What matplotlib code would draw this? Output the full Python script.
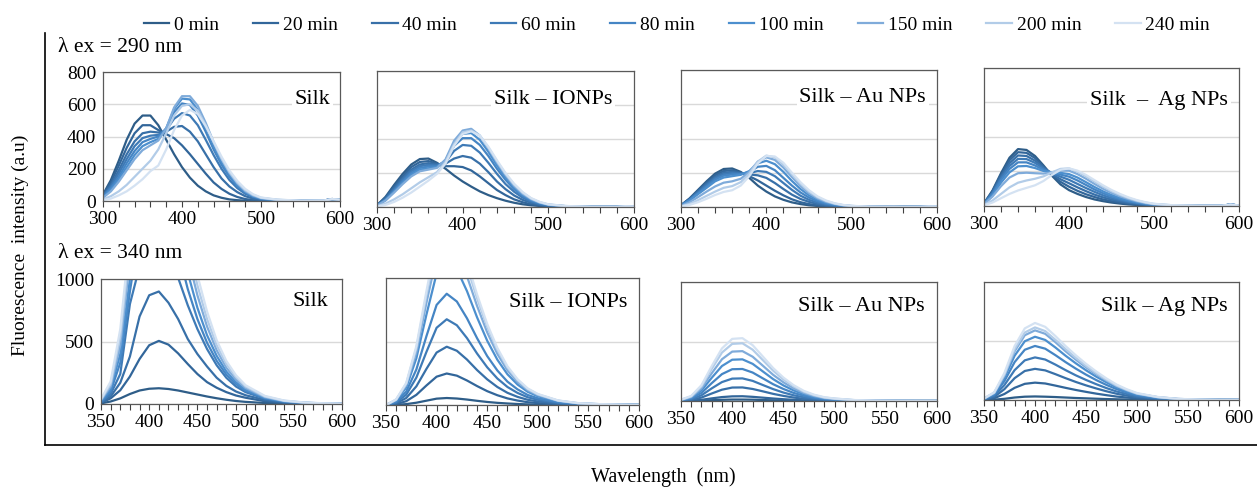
import matplotlib
matplotlib.use('Agg')
import matplotlib.pyplot as plt
from matplotlib.lines import Line2D
from matplotlib.ticker import MultipleLocator

plt.rcParams['font.family'] = ['Liberation Serif', 'DejaVu Serif']

times = ['0 min', '20 min', '40 min', '60 min', '80 min', '100 min', '150 min', '200 min', '240 min']
colors = ['#2E5D88', '#32669A', '#3870A8', '#3E7AB6', '#4585C4', '#4C8FCE', '#7FABDA', '#B2CCE8', '#D4E2F2']

# wavelength grids (nm)
wl_290 = [300, 310, 320, 330, 340, 350, 360, 370, 380, 390, 400, 410, 420, 430, 440,
          450, 460, 470, 480, 490, 500, 520, 550, 580, 590, 600]
wl_340 = [350, 360, 370, 380, 390, 400, 410, 420, 430, 440, 450, 460, 470, 480, 490,
          500, 520, 540, 560, 580, 600]

# excitation 290 nm
silk_290 = [
    [40, 130, 250, 380, 480, 530, 530, 470, 380, 290, 210, 145, 95, 60, 35, 20, 10, 5, 2, 0, 0, 0, 0, 3, 12, 8],
    [35, 115, 220, 330, 420, 470, 470, 440, 415, 390, 345, 290, 230, 170, 115, 75, 45, 25, 12, 6, 3, 1, 0, 3, 12, 8],
    [30, 100, 190, 290, 370, 420, 430, 425, 430, 460, 465, 430, 370, 290, 210, 140, 90, 55, 30, 15, 8, 3, 1, 3, 12, 8],
    [28, 90, 170, 260, 340, 390, 405, 410, 440, 510, 545, 530, 470, 380, 285, 200, 130, 80, 45, 25, 12, 4, 1, 3, 12, 8],
    [25, 80, 150, 235, 310, 365, 385, 400, 450, 550, 605, 595, 530, 430, 320, 225, 150, 92, 52, 28, 14, 5, 1, 3, 12, 8],
    [22, 70, 135, 210, 285, 340, 365, 385, 450, 570, 635, 630, 565, 460, 345, 245, 165, 100, 58, 30, 16, 6, 1, 3, 12, 8],
    [20, 60, 120, 190, 260, 315, 345, 375, 450, 580, 650, 650, 590, 485, 365, 260, 175, 110, 62, 34, 18, 7, 1, 3, 12, 8],
    [10, 30, 60, 100, 150, 200, 250, 320, 420, 530, 590, 600, 560, 470, 365, 265, 180, 115, 68, 38, 20, 8, 2, 3, 12, 8],
    [5, 15, 35, 60, 95, 135, 185, 220, 320, 440, 530, 565, 540, 465, 370, 275, 190, 125, 75, 42, 22, 9, 2, 3, 12, 8],
]
ionp_290 = [
    [10, 60, 130, 195, 250, 282, 285, 260, 225, 185, 150, 120, 92, 70, 52, 37, 25, 16, 10, 6, 3, 1, 0, 1, 4, 3],
    [10, 55, 120, 180, 235, 265, 270, 255, 240, 240, 235, 215, 180, 140, 100, 70, 45, 28, 16, 9, 5, 2, 0, 1, 4, 3],
    [10, 50, 110, 170, 220, 250, 258, 250, 255, 285, 300, 290, 255, 205, 150, 105, 68, 42, 25, 14, 8, 3, 1, 1, 4, 3],
    [9, 45, 100, 160, 210, 240, 248, 245, 265, 330, 365, 360, 320, 260, 195, 135, 90, 55, 32, 18, 10, 4, 1, 1, 4, 3],
    [9, 42, 95, 150, 200, 230, 238, 240, 270, 360, 405, 405, 365, 300, 225, 160, 105, 65, 38, 22, 12, 4, 1, 1, 4, 3],
    [8, 40, 90, 142, 190, 220, 228, 235, 275, 375, 430, 435, 395, 325, 245, 175, 115, 72, 42, 24, 13, 5, 1, 1, 4, 3],
    [8, 38, 85, 135, 180, 210, 220, 230, 280, 390, 450, 460, 420, 345, 262, 188, 125, 78, 46, 26, 14, 5, 1, 1, 4, 3],
    [5, 20, 45, 75, 110, 145, 175, 205, 265, 370, 440, 450, 420, 350, 270, 195, 132, 84, 50, 28, 15, 6, 1, 1, 4, 3],
    [3, 12, 30, 55, 85, 120, 155, 195, 255, 360, 430, 445, 420, 355, 275, 200, 137, 88, 52, 30, 16, 6, 1, 1, 4, 3],
]
au_290 = [
    [10, 50, 100, 150, 195, 222, 225, 205, 170, 125, 90, 62, 42, 27, 17, 10, 6, 3, 2, 1, 0, 0, 0, 1, 3, 3],
    [10, 48, 95, 142, 185, 210, 215, 200, 180, 155, 125, 95, 68, 45, 28, 17, 10, 6, 3, 2, 1, 0, 0, 1, 3, 3],
    [10, 45, 90, 135, 175, 200, 205, 198, 190, 185, 170, 140, 105, 72, 47, 30, 18, 10, 6, 3, 2, 1, 0, 1, 3, 3],
    [9, 42, 85, 128, 168, 192, 198, 195, 198, 210, 205, 180, 140, 100, 66, 42, 26, 15, 9, 5, 3, 1, 0, 1, 3, 3],
    [9, 40, 80, 120, 160, 183, 190, 192, 205, 235, 240, 215, 170, 125, 85, 55, 34, 20, 12, 7, 4, 1, 0, 1, 3, 3],
    [8, 38, 75, 112, 150, 172, 180, 188, 210, 255, 270, 250, 205, 152, 105, 68, 42, 25, 15, 8, 5, 2, 0, 1, 3, 3],
    [6, 28, 58, 90, 120, 142, 150, 165, 205, 265, 290, 275, 230, 175, 122, 80, 50, 30, 18, 10, 6, 2, 0, 1, 3, 3],
    [4, 18, 40, 65, 90, 112, 122, 145, 195, 265, 300, 290, 248, 190, 135, 90, 57, 35, 20, 11, 6, 2, 0, 1, 3, 3],
    [3, 12, 28, 48, 70, 88, 98, 125, 180, 255, 298, 295, 258, 200, 145, 98, 62, 38, 22, 12, 7, 2, 0, 1, 3, 3],
]
ag_290 = [
    [15, 90, 190, 280, 330, 325, 290, 235, 175, 125, 92, 70, 52, 38, 28, 20, 14, 9, 6, 4, 2, 1, 0, 2, 8, 3],
    [15, 85, 180, 265, 312, 308, 278, 228, 180, 140, 112, 88, 68, 52, 38, 28, 20, 14, 9, 6, 4, 1, 0, 2, 8, 3],
    [14, 80, 170, 248, 293, 290, 263, 222, 185, 155, 132, 108, 86, 66, 50, 37, 27, 19, 13, 8, 5, 2, 0, 2, 8, 3],
    [13, 75, 160, 232, 273, 272, 250, 217, 190, 170, 152, 128, 104, 82, 62, 46, 34, 24, 16, 10, 6, 2, 1, 2, 8, 3],
    [12, 70, 150, 215, 253, 253, 235, 210, 193, 182, 170, 148, 122, 96, 74, 55, 40, 28, 19, 12, 7, 3, 1, 2, 8, 3],
    [11, 62, 135, 195, 230, 232, 220, 203, 195, 192, 185, 165, 138, 110, 85, 64, 47, 33, 22, 14, 8, 3, 1, 2, 8, 3],
    [10, 55, 115, 165, 190, 193, 190, 188, 195, 205, 205, 185, 158, 128, 100, 76, 56, 40, 27, 17, 10, 4, 1, 2, 8, 3],
    [6, 32, 70, 108, 135, 148, 158, 172, 195, 215, 218, 200, 172, 142, 112, 86, 64, 46, 31, 20, 12, 5, 1, 2, 8, 3],
    [4, 20, 45, 70, 90, 105, 120, 145, 180, 210, 218, 205, 180, 150, 120, 93, 70, 50, 34, 22, 13, 5, 2, 2, 8, 3],
]

# excitation 340 nm
silk_340 = [
    [5, 20, 45, 80, 108, 122, 126, 120, 108, 92, 76, 60, 46, 34, 24, 17, 8, 4, 2, 1, 0],
    [10, 45, 110, 220, 360, 470, 505, 475, 405, 320, 240, 175, 130, 95, 68, 50, 22, 10, 5, 2, 1],
    [10, 60, 170, 380, 700, 870, 900, 810, 680, 520, 400, 300, 210, 145, 100, 70, 32, 14, 6, 3, 1],
    [15, 80, 240, 800, 1100, 1230, 1260, 1150, 1010, 790, 600, 440, 310, 210, 140, 95, 42, 18, 8, 3, 1],
    [20, 100, 330, 900, 1400, 1650, 1680, 1500, 1220, 920, 680, 490, 345, 235, 160, 105, 46, 20, 9, 4, 2],
    [25, 120, 400, 1000, 1600, 1900, 1950, 1750, 1400, 1050, 770, 550, 385, 260, 175, 115, 50, 22, 10, 4, 2],
    [30, 140, 470, 1150, 1800, 2150, 2200, 1950, 1550, 1180, 870, 620, 430, 290, 195, 128, 55, 24, 11, 5, 2],
    [35, 160, 540, 1250, 1950, 2300, 2350, 2100, 1680, 1280, 950, 680, 470, 320, 215, 140, 60, 26, 12, 5, 2],
    [40, 180, 600, 1350, 2100, 2450, 2500, 2250, 1800, 1380, 1030, 740, 510, 345, 230, 150, 65, 28, 13, 6, 3],
]
ionp_340 = [
    [0, 2, 7, 18, 34, 50, 55, 51, 43, 33, 24, 17, 12, 8, 5, 3, 1, 1, 0, 0, 0],
    [0, 7, 30, 80, 154, 223, 248, 231, 193, 149, 109, 77, 52, 35, 22, 15, 6, 2, 1, 0, 0],
    [0, 14, 55, 147, 285, 413, 459, 427, 358, 275, 202, 142, 96, 64, 41, 28, 11, 5, 2, 1, 0],
    [0, 20, 81, 216, 419, 608, 675, 628, 527, 405, 297, 209, 142, 95, 61, 41, 17, 7, 3, 1, 0],
    [0, 26, 105, 280, 543, 788, 876, 815, 683, 526, 385, 272, 184, 123, 79, 53, 22, 9, 4, 2, 0],
    [0, 35, 138, 368, 713, 1035, 1150, 1070, 897, 690, 506, 357, 242, 161, 104, 69, 29, 12, 6, 2, 0],
    [0, 39, 156, 416, 806, 1170, 1300, 1209, 1014, 780, 572, 403, 273, 182, 117, 78, 33, 13, 7, 3, 0],
    [0, 42, 168, 448, 868, 1260, 1400, 1302, 1092, 840, 616, 434, 294, 196, 126, 84, 35, 14, 7, 3, 0],
    [0, 44, 174, 464, 899, 1305, 1450, 1349, 1131, 870, 638, 450, 305, 203, 131, 87, 36, 15, 7, 3, 0],
]
au_340 = [
    [0, 1, 3, 7, 10, 12, 12, 11, 8, 6, 4, 3, 2, 1, 1, 0, 0, 0, 0, 0, 0],
    [1, 3, 10, 22, 33, 39, 40, 35, 28, 21, 15, 10, 6, 4, 2, 2, 1, 0, 0, 0, 0],
    [2, 9, 29, 63, 95, 113, 114, 101, 81, 60, 43, 29, 18, 12, 7, 5, 2, 1, 0, 0, 0],
    [4, 15, 48, 106, 159, 188, 190, 169, 134, 100, 71, 48, 31, 19, 12, 8, 3, 1, 0, 0, 0],
    [5, 22, 68, 150, 226, 267, 269, 239, 190, 141, 101, 68, 44, 27, 16, 11, 4, 2, 1, 0, 0],
    [7, 28, 89, 195, 294, 347, 350, 312, 248, 184, 131, 89, 57, 35, 21, 14, 5, 2, 1, 0, 0],
    [8, 34, 106, 233, 351, 415, 419, 372, 296, 220, 157, 106, 68, 42, 25, 17, 6, 3, 1, 0, 0],
    [10, 39, 123, 270, 407, 480, 485, 431, 343, 255, 181, 123, 78, 49, 29, 20, 7, 3, 1, 0, 0],
    [11, 43, 133, 293, 442, 522, 528, 469, 373, 277, 197, 133, 85, 53, 32, 21, 8, 3, 1, 0, 0],
]
ag_340 = [
    [1, 3, 10, 21, 28, 30, 28, 25, 21, 17, 14, 11, 8, 6, 4, 3, 1, 0, 0, 0, 0],
    [3, 15, 51, 103, 137, 147, 140, 122, 103, 85, 69, 54, 41, 29, 21, 13, 6, 2, 1, 0, 0],
    [5, 26, 92, 185, 246, 264, 251, 219, 185, 153, 124, 98, 74, 53, 37, 24, 11, 4, 2, 1, 0],
    [7, 36, 126, 253, 336, 361, 343, 300, 253, 209, 170, 134, 101, 72, 51, 32, 14, 5, 2, 1, 0],
    [9, 46, 160, 321, 426, 458, 435, 380, 321, 266, 215, 169, 128, 92, 64, 41, 18, 7, 3, 1, 0],
    [11, 54, 188, 375, 498, 536, 509, 445, 375, 311, 252, 198, 150, 107, 75, 48, 21, 8, 3, 1, 0],
    [12, 59, 207, 413, 549, 590, 561, 490, 413, 342, 277, 218, 165, 118, 83, 53, 24, 9, 4, 1, 0],
    [12, 62, 215, 431, 572, 615, 584, 510, 431, 357, 289, 228, 172, 123, 86, 55, 25, 9, 4, 1, 0],
    [13, 65, 229, 457, 607, 653, 620, 542, 457, 379, 307, 242, 183, 131, 91, 59, 26, 10, 4, 1, 0],
]

panel_names_290 = ['Silk', 'Silk – IONPs', 'Silk – Au NPs', 'Silk  –  Ag NPs']
panel_names_340 = ['Silk', 'Silk – IONPs', 'Silk – Au NPs', 'Silk – Ag NPs']

W, H = 1257, 487
fig = plt.figure(figsize=(W / 100, H / 100), dpi=100)


def px_axes(x0, y0, x1, y1):
    return fig.add_axes([x0 / W, 1 - y1 / H, (x1 - x0) / W, (y1 - y0) / H])


top_boxes = [(103, 72, 340, 201), (377, 71, 634, 207), (681, 70, 937, 207), (984, 68, 1239, 206)]
bot_boxes = [(101, 279, 342, 404), (386, 278, 639, 405), (681, 282, 937, 401), (984, 282, 1239, 400)]
top_label_pos = [(0.958, 0.79), (0.914, 0.787), (0.957, 0.796), (0.957, 0.768)]
bot_label_pos = [(0.942, 0.816), (0.953, 0.81), (0.953, 0.79), (0.957, 0.79)]


def style(ax, first, top):
    for s in ax.spines.values():
        s.set_color('#595959')
        s.set_linewidth(0.9)
    ax.set_axisbelow(True)
    ax.yaxis.grid(True, color='#D9D9D9', lw=1)
    ax.tick_params(axis='x', which='both', direction='out', length=4, width=0.8,
                   color='#404040', labelsize=14, pad=3)
    ax.tick_params(axis='y', length=0, labelsize=14, pad=5)
    if top:
        ax.set_xlim(300, 600)
        ax.set_ylim(0, 800)
        ax.xaxis.set_major_locator(MultipleLocator(100))
        ax.xaxis.set_minor_locator(MultipleLocator(20))
        ax.set_yticks([0, 200, 400, 600, 800])
    else:
        ax.set_xlim(350, 600)
        ax.set_ylim(0, 1000)
        ax.xaxis.set_major_locator(MultipleLocator(50))
        ax.xaxis.set_minor_locator(MultipleLocator(10))
        ax.set_yticks([0, 500, 1000])
    if not first:
        ax.set_yticklabels([])


rows = [
    (wl_290, [silk_290, ionp_290, au_290, ag_290], top_boxes, panel_names_290, top_label_pos, True),
    (wl_340, [silk_340, ionp_340, au_340, ag_340], bot_boxes, panel_names_340, bot_label_pos, False),
]

for wl, datasets, boxes, names, lpos, top in rows:
    for i in range(4):
        ax = px_axes(*boxes[i])
        for j in range(len(times)):
            ax.plot(wl, datasets[i][j], color=colors[j], lw=1.6, label=times[j])
        style(ax, i == 0, top)
        ax.text(lpos[i][0], lpos[i][1], names[i], transform=ax.transAxes, ha='right', va='center',
                fontsize=16, bbox=dict(facecolor='white', edgecolor='none', pad=2))
        if top and i == 0:
            handles, labels = ax.get_legend_handles_labels()

fig.legend(handles, labels, loc='center', bbox_to_anchor=(677 / W, 1 - 25 / H), ncol=9,
           frameon=False, fontsize=14, handlelength=1.3, handletextpad=0.25, columnspacing=1.75)

# bracket frame
fig.add_artist(Line2D([45 / W, 45 / W], [1 - 33 / H, 1 - 445 / H], color='black', lw=1.2))
fig.add_artist(Line2D([45 / W, 1.0], [1 - 445 / H, 1 - 445 / H], color='black', lw=1.2))

fig.text(58 / W, 1 - 47 / H, 'λ ex = 290 nm', fontsize=15.5, va='center', ha='left')
fig.text(58 / W, 1 - 254 / H, 'λ ex = 340 nm', fontsize=15.5, va='center', ha='left')
fig.text(20 / W, 1 - 245 / H, 'Fluorescence  intensity (a.u)', fontsize=14, rotation=90,
         va='center', ha='center')
fig.text(663 / W, 1 - 477 / H, 'Wavelength  (nm)', fontsize=14.5, va='center', ha='center')

fig.savefig('out.png', dpi=100)
